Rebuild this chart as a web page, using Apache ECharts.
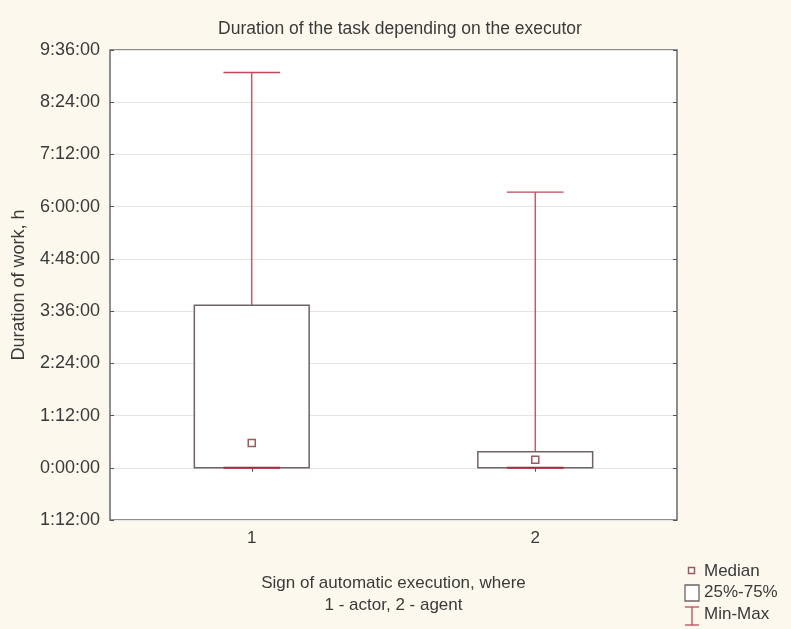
<!DOCTYPE html>
<html>
<head>
<meta charset="utf-8">
<script src="https://cdn.jsdelivr.net/npm/echarts@6/dist/echarts.min.js"></script>
<style>
  html, body { margin: 0; padding: 0; background: #fcf8ed; }
  #chart { width: 791px; height: 629px; }
</style>
</head>
<body>
<div id="chart"></div>
<script>
// Executor groups (1 - actor, 2 - agent)
const categories = ['1', '2'];
// Durations in minutes
const minValues    = [0, 0];
const q1Values     = [0, 0];
const medianValues = [34, 11];
const q3Values     = [224, 22];
const maxValues    = [545, 380];
// Y axis ticks (minutes), every 1:12:00
const yMin = -72, yMax = 576, yStep = 72;

const FONT = '"Liberation Sans", Arial, sans-serif';
const TEXT = '#3a3a3a';
const WHISKER = '#c0485a';
const BOX = '#6f6363';

function fmtTime(m) {
  const a = Math.abs(Math.round(m));
  const h = Math.floor(a / 60), mm = a % 60;
  return h + ':' + String(mm).padStart(2, '0') + ':00';
}

const boxData = categories.map((c, i) =>
  [i, minValues[i], q1Values[i], medianValues[i], q3Values[i], maxValues[i]]);

function renderBox(params, api) {
  const i = api.value(0);
  const pMin = api.coord([i, api.value(1)]);
  const pQ1 = api.coord([i, api.value(2)]);
  const pMed = api.coord([i, api.value(3)]);
  const pQ3 = api.coord([i, api.value(4)]);
  const pMax = api.coord([i, api.value(5)]);
  const band = api.size([1, 0])[0];
  const bw = band * 0.405;
  const cw = band * 0.2;
  const x = pMed[0];
  const wStyle = { stroke: WHISKER, lineWidth: 1.3, fill: null };
  return {
    type: 'group',
    children: [
      { type: 'line', shape: { x1: x, y1: pQ3[1], x2: x, y2: pMax[1] }, style: wStyle },
      { type: 'line', shape: { x1: x, y1: pQ1[1], x2: x, y2: pMin[1] }, style: wStyle },
      { type: 'rect', shape: { x: x - bw / 2, y: pQ3[1], width: bw, height: pQ1[1] - pQ3[1] },
        style: { fill: '#ffffff', stroke: BOX, lineWidth: 1.5 } },
      { type: 'line', shape: { x1: x - cw / 2, y1: pMax[1], x2: x + cw / 2, y2: pMax[1] }, style: wStyle },
      { type: 'line', shape: { x1: x - cw / 2, y1: pMin[1], x2: x + cw / 2, y2: pMin[1] },
        style: { stroke: '#a8283c', lineWidth: 2 } },
      { type: 'rect', shape: { x: x - 3.5, y: pMed[1] - 3.5, width: 7, height: 7 },
        style: { fill: '#ffffff', stroke: '#9a5a5e', lineWidth: 1.5 } }
    ]
  };
}

const chart = echarts.init(document.getElementById('chart'), null, { renderer: 'canvas' });
chart.setOption({
  backgroundColor: '#fcf8ed',
  animation: false,
  grid: {
    left: 110, right: 114, top: 50, bottom: 109,
    containLabel: false, outerBoundsMode: 'none',
    show: true, backgroundColor: '#ffffff', borderColor: '#6a6a6a', borderWidth: 1.5
  },
  xAxis: [{
    type: 'category', data: categories, boundaryGap: true,
    name: 'Sign of automatic execution, where\n1 - actor, 2 - agent',
    nameLocation: 'middle', nameGap: 52,
    nameTextStyle: { fontFamily: FONT, fontSize: 17, color: TEXT, lineHeight: 22 },
    axisLine: { show: false },
    axisTick: { show: true, alignWithLabel: true, inside: true, length: 4, lineStyle: { color: '#555' } },
    axisLabel: { fontFamily: FONT, fontSize: 17, color: TEXT, margin: 10 },
    splitLine: { show: false }
  }, {
    type: 'category', data: categories, position: 'top', boundaryGap: true,
    axisLine: { show: false },
    axisTick: { show: true, alignWithLabel: true, inside: true, length: 4, lineStyle: { color: '#555' } },
    axisLabel: { show: false }
  }],
  yAxis: [{
    type: 'value', min: yMin, max: yMax, interval: yStep,
    name: 'Duration of work, h', nameLocation: 'middle', nameGap: 82,
    nameTextStyle: { fontFamily: FONT, fontSize: 18, color: TEXT },
    axisLine: { show: false },
    axisTick: { show: true, inside: true, length: 4, lineStyle: { color: '#555' } },
    axisLabel: { fontFamily: FONT, fontSize: 18, color: TEXT, margin: 10, formatter: fmtTime },
    splitLine: { show: true, lineStyle: { color: '#e4e4e4', width: 1.2 } }
  }, {
    type: 'value', min: yMin, max: yMax, interval: yStep, position: 'right',
    axisLine: { show: false },
    axisTick: { show: true, inside: true, length: 4, lineStyle: { color: '#555' } },
    axisLabel: { show: false },
    splitLine: { show: false }
  }],
  series: [{
    type: 'custom',
    renderItem: renderBox,
    encode: { x: 0, y: [1, 2, 3, 4, 5] },
    data: boxData,
    z: 5
  }],
  graphic: [
    { type: 'text', x: 400, y: 29, style: { text: 'Duration of the task depending on the executor',
      fontFamily: FONT, fontSize: 17.5, fill: TEXT, align: 'center', verticalAlign: 'middle' } },
    { type: 'rect', shape: { x: 688.5, y: 567.5, width: 6, height: 6 },
      style: { fill: '#fff', stroke: '#9a5a5e', lineWidth: 1.5 } },
    { type: 'text', x: 704, y: 571, style: { text: 'Median', fontFamily: FONT, fontSize: 17, fill: TEXT, verticalAlign: 'middle' } },
    { type: 'rect', shape: { x: 685, y: 585, width: 14, height: 16 },
      style: { fill: '#fff', stroke: BOX, lineWidth: 1.3 } },
    { type: 'text', x: 704, y: 592, style: { text: '25%-75%', fontFamily: FONT, fontSize: 17, fill: TEXT, verticalAlign: 'middle' } },
    { type: 'polyline', shape: { points: [[685, 607], [699, 607]] }, style: { stroke: WHISKER, lineWidth: 1.3 } },
    { type: 'polyline', shape: { points: [[692, 607], [692, 625]] }, style: { stroke: WHISKER, lineWidth: 1.3 } },
    { type: 'polyline', shape: { points: [[685, 625], [699, 625]] }, style: { stroke: WHISKER, lineWidth: 1.3 } },
    { type: 'text', x: 704, y: 614, style: { text: 'Min-Max', fontFamily: FONT, fontSize: 17, fill: TEXT, verticalAlign: 'middle' } }
  ]
});
</script>
</body>
</html>
